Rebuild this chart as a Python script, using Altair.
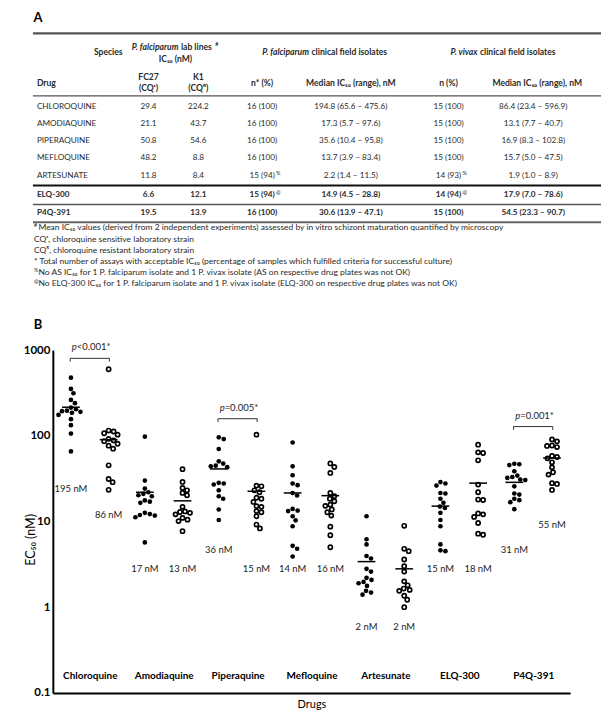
import altair as alt
import numpy as np
import pandas as pd

# ================= Panel A : table values =================
tbl_drugs = ["CHLOROQUINE", "AMODIAQUINE", "PIPERAQUINE", "MEFLOQUINE", "ARTESUNATE", "ELQ-300", "P4Q-391"]
tbl_fc27 = ["29.4", "21.1", "50.8", "48.2", "11.8", "6.6", "19.5"]
tbl_k1 = ["224.2", "43.7", "54.6", "8.8", "8.4", "12.1", "13.9"]
tbl_pf_n = ["16 (100)", "16 (100)", "16 (100)", "16 (100)", "15 (94)", "15 (94)", "16 (100)"]
tbl_pf_mark = ["", "", "", "", "%", "@", ""]
tbl_pf_med = ["194.8 (65.6 – 475.6)", "17.3 (5.7 – 97.6)", "35.6 (10.4 – 95.8)", "13.7 (3.9 – 83.4)",
              "2.2 (1.4 – 11.5)", "14.9 (4.5 – 28.8)", "30.6 (13.9 – 47.1)"]
tbl_pv_n = ["15 (100)", "15 (100)", "15 (100)", "15 (100)", "14 (93)", "14 (94)", "15 (100)"]
tbl_pv_mark = ["", "", "", "", "%", "@", ""]
tbl_pv_med = ["86.4 (23.4 – 596.9)", "13.1 (7.7 – 40.7)", "16.9 (8.3 – 102.8)", "15.7 (5.0 – 47.5)",
              "1.9 (1.0 – 8.9)", "17.9 (7.0 – 78.6)", "54.5 (23.3 – 90.7)"]
tbl_bold = [False, False, False, False, False, True, True]

footnote_marks = ["#", "", "", "", "%", "@"]
footnotes = [
    "Mean IC₅₀ values (derived from 2 independent experiments) assessed by in vitro schizont maturation quantified by microscopy",
    "CQˢ, chloroquine sensitive laboratory strain",
    "CQᴿ, chloroquine resistant laboratory strain",
    "* Total number of assays with acceptable IC₅₀ (percentage of samples which fulfilled criteria for successful culture)",
    "No AS IC₅₀ for 1 P. falciparum isolate and 1 P. vivax isolate (AS on respective drug plates was not OK)",
    "No ELQ-300 IC₅₀ for 1 P. falciparum isolate and 1 P. vivax isolate (ELQ-300 on respective drug plates was not OK)",
]

# ================= Panel B : dot plot values =================
drug_names = ["Chloroquine", "Amodiaquine", "Piperaquine", "Mefloquine", "Artesunate", "ELQ-300", "P4Q-391"]

pf_chloroquine = [475.6, 352, 313, 262, 240, 213, 204, 196, 193.6, 190, 185, 175, 156, 133, 106, 65.6]
pf_amodiaquine = [97.6, 30, 24.2, 21.9, 21, 20.2, 19.7, 17.6, 17, 16.5, 12.6, 12.2, 11.9, 11.7, 11.2, 5.7]
pf_piperaquine = [95.8, 91.5, 70, 50.3, 47.3, 44.8, 44, 43, 28.2, 27.7, 27, 23.1, 19.7, 18.4, 13.8, 10.4]
pf_mefloquine = [83.4, 44, 34.6, 27.7, 26.5, 21.5, 20.1, 14.0, 13.4, 13.2, 11.5, 10.3, 8.8, 5.2, 4.8, 3.9]
pf_artesunate = [11.5, 6.2, 5.4, 3.95, 3.7, 2.8, 2.6, 2.2, 2.08, 1.97, 1.9, 1.77, 1.55, 1.48, 1.4]
pf_elq300 = [28.8, 27.7, 26.2, 21.5, 21.2, 18.4, 16.5, 14.9, 14.4, 12.6, 10.4, 8.8, 5.4, 4.6, 4.5]
pf_p4q391 = [47.1, 46.5, 45.5, 38.5, 34.3, 33, 32.2, 30.8, 30.4, 25.7, 21.2, 20.6, 18.4, 17.7, 16.8, 13.9]

pv_chloroquine = [596.9, 115, 112, 107, 103, 92, 88.3, 86.4, 80.7, 76.5, 70.6, 45.2, 31.3, 28.7, 23.4]
pv_amodiaquine = [40.7, 28.9, 24.6, 23.1, 21.5, 20.2, 14.8, 13.1, 12.9, 12.6, 12.1, 11, 10.5, 10.1, 7.7]
pv_piperaquine = [102.8, 26.2, 25.7, 23.1, 21.9, 18.9, 18.4, 16.9, 15.1, 14.8, 13.2, 12.8, 11.5, 9.2, 8.3]
pv_mefloquine = [47.5, 43.2, 36.8, 21.5, 19.7, 18.4, 17.2, 15.7, 15.2, 13.8, 12.8, 11.7, 8.7, 6.9, 5.0]
pv_artesunate = [8.9, 4.8, 4.5, 3.6, 3.0, 2.6, 2.0, 1.8, 1.65, 1.59, 1.55, 1.36, 1.22, 1.0]
pv_elq300 = [78.6, 64, 62.9, 51.7, 26.9, 21.9, 18.0, 17.8, 12.4, 12.1, 11.3, 9.6, 7.2, 7.0]
pv_p4q391 = [90.7, 86, 77, 76, 73.8, 58, 56.5, 54.5, 49, 42.8, 37.5, 35.2, 28, 27.4, 23.3]

pf_sets = [pf_chloroquine, pf_amodiaquine, pf_piperaquine, pf_mefloquine, pf_artesunate, pf_elq300, pf_p4q391]
pv_sets = [pv_chloroquine, pv_amodiaquine, pv_piperaquine, pv_mefloquine, pv_artesunate, pv_elq300, pv_p4q391]

pf_line = [215, 21.9, 41, 21.5, 3.4, 15.1, 28.6]
pv_line = [90, 17.4, 22.5, 20, 2.8, 28, 55]

pf_label = ["195 nM", "17 nM", "36 nM", "14 nM", "2 nM", "15 nM", "31 nM"]
pv_label = ["86 nM", "13 nM", "15 nM", "16 nM", "2 nM", "18 nM", "55 nM"]
pf_label_at = [24, 2.77, 4.7, 2.77, 0.58, 2.77, 4.63]
pv_label_at = [12, 2.77, 2.77, 2.77, 0.58, 2.77, 9.0]

p_drug = [0, 2, 6]
p_text = ["<0.001*", "=0.005*", "=0.001*"]
p_bracket_at = [800, 158, 128]
p_text_at = [1075, 210, 171]

# ================= layout (not data) =================
FONT = "Lato"
TXT = "#2a2a2a"
COL_X = {"drug": 35, "fc27": 147, "k1": 197, "pf_n": 261, "pf_med": 350, "pv_n": 448, "pv_med": 533}
ROW_Y = [106, 123, 140, 157, 175, 194, 213]
FOOT_Y = [227, 238.5, 250, 261, 272, 283]
A_X0, A_W = 51, 553
A_Y0, A_H = 8, 324
B_W, B_H = 519, 344
SIDE = {"pf": -0.255, "pv": 0.255}
PX_UNIT = B_W / 7.0
PX_DEC = B_H / 4.0

# ---------------- Panel A chart ----------------
xa = alt.Scale(domain=[A_X0, A_X0 + A_W], nice=False, zero=False)
ya = alt.Scale(domain=[A_Y0, A_Y0 + A_H], nice=False, zero=False, reverse=True)


def tlayer(rows, **kw):
    df = pd.DataFrame(rows, columns=["px", "py", "t"])
    base = dict(font=FONT, color=TXT, baseline="middle")
    base.update(kw)
    return alt.Chart(df).mark_text(**base).encode(
        x=alt.X("px:Q", scale=xa, axis=None),
        y=alt.Y("py:Q", scale=ya, axis=None),
        text="t:N",
    )


cells_norm, cells_bold, drug_norm, drug_bold, sup_rows = [], [], [], [], []
for i, d in enumerate(tbl_drugs):
    y = ROW_Y[i]
    row = [(COL_X["fc27"], y, tbl_fc27[i]), (COL_X["k1"], y, tbl_k1[i]),
           (COL_X["pf_n"], y, tbl_pf_n[i]), (COL_X["pf_med"], y, tbl_pf_med[i]),
           (COL_X["pv_n"], y, tbl_pv_n[i]), (COL_X["pv_med"], y, tbl_pv_med[i])]
    if tbl_bold[i]:
        cells_bold += row
        drug_bold.append((COL_X["drug"], y, d))
    else:
        cells_norm += row
        drug_norm.append((COL_X["drug"], y, d))
    if tbl_pf_mark[i]:
        sup_rows.append((COL_X["pf_n"] + 14, y - 3, tbl_pf_mark[i]))
    if tbl_pv_mark[i]:
        sup_rows.append((COL_X["pv_n"] + 14, y - 3, tbl_pv_mark[i]))

rules_a = pd.DataFrame({
    "x1": [31, 31, 31, 31, 31],
    "x2": [601, 601, 601, 601, 601],
    "y": [32.3, 95, 185, 204, 221.7],
    "w": [2.2, 1.4, 2.0, 1.3, 2.0],
    "c": ["#555555", "#555555", "#111111", "#555555", "#666666"],
})
rule_layer = alt.Chart(rules_a).mark_rule().encode(
    x=alt.X("x1:Q", scale=xa, axis=None), x2="x2:Q",
    y=alt.Y("y:Q", scale=ya, axis=None),
    strokeWidth=alt.StrokeWidth("w:Q", scale=None),
    color=alt.Color("c:N", scale=None),
)

HS = 8.6  # header font size
layers_a = [
    rule_layer,
    tlayer([(36, 16.5, "A"), (36, 325, "B")], fontSize=13, fontWeight="bold", color="black", align="center"),
    # header row 1
    tlayer([(121, 51, "Species")], fontSize=HS, fontWeight="bold", align="right"),
    tlayer([(177, 46, "P. falciparum"), (308, 51, "P. falciparum"), (477, 51, "P. vivax")],
           fontSize=HS, fontWeight="bold", fontStyle="italic", align="right"),
    tlayer([(179.5, 46, "lab lines"), (310.5, 51, "clinical field isolates"), (479.5, 51, "clinical field isolates")],
           fontSize=HS, fontWeight="bold", align="left"),
    tlayer([(214, 43, "#")], fontSize=5.5, fontWeight="bold", align="left"),
    tlayer([(174, 57.5, "IC₅₀ (nM)")], fontSize=HS, fontWeight="bold", align="center"),
    # header row 2
    tlayer([(COL_X["drug"], 82, "Drug")], fontSize=HS, fontWeight="bold", align="left"),
    tlayer([(COL_X["fc27"], 76, "FC27"), (COL_X["fc27"], 87, "(CQˢ)"),
            (COL_X["k1"], 76, "K1"), (COL_X["k1"], 87, "(CQᴿ)"),
            (COL_X["pf_n"], 82, "n* (%)"), (COL_X["pf_med"], 82, "Median IC₅₀ (range), nM"),
            (COL_X["pv_n"], 82, "n (%)"), (COL_X["pv_med"] + 4, 82, "Median IC₅₀ (range), nM")],
           fontSize=HS, fontWeight="bold", align="center"),
    # body
    tlayer(drug_norm, fontSize=8.2, align="left"),
    tlayer(drug_bold, fontSize=8.2, fontWeight="bold", align="left"),
    tlayer(cells_norm, fontSize=8.2, align="center"),
    tlayer(cells_bold, fontSize=8.2, fontWeight="bold", align="center"),
    tlayer(sup_rows, fontSize=5.5, align="left"),
    # footnotes
    tlayer([(32, FOOT_Y[i] - 2.5, m) for i, m in enumerate(footnote_marks) if m], fontSize=5.5, align="left"),
    tlayer([(36.5 if footnote_marks[i] else 32, FOOT_Y[i], f) for i, f in enumerate(footnotes)],
           fontSize=8.5, align="left"),
]
chart_a = alt.layer(*layers_a).properties(width=A_W, height=A_H)


# ---------------- Panel B chart ----------------
def swarm(vals, d=5.0):
    ys_px = [PX_DEC * np.log10(v) for v in vals]
    placed, offs = [], [0.0] * len(vals)
    for i in np.argsort(ys_px)[::-1]:
        y = ys_px[i]
        found = None
        for k in range(0, 80):
            for s in ([0] if k == 0 else [1, -1]):
                x = s * k * 0.5
                if all((x - px) ** 2 + (y - py) ** 2 >= d * d for px, py in placed):
                    found = x
                    break
            if found is not None:
                break
        placed.append((found, y))
        offs[i] = found
    return offs


pts = []
for i in range(7):
    for sp, sets in (("pf", pf_sets), ("pv", pv_sets)):
        vals = sets[i]
        offs = swarm(vals)
        for v, o in zip(vals, offs):
            pts.append({"species": sp, "x": i + SIDE[sp] + o / PX_UNIT, "v": v})
pts = pd.DataFrame(pts)

med = pd.DataFrame(
    [{"x1": i + SIDE["pf"] - 0.12, "x2": i + SIDE["pf"] + 0.12, "v": pf_line[i]} for i in range(7)]
    + [{"x1": i + SIDE["pv"] - 0.12, "x2": i + SIDE["pv"] + 0.12, "v": pv_line[i]} for i in range(7)]
)
labels = pd.DataFrame(
    [{"x": i + SIDE["pf"], "v": pf_label_at[i], "t": pf_label[i]} for i in range(7)]
    + [{"x": i + SIDE["pv"], "v": pv_label_at[i], "t": pv_label[i]} for i in range(7)]
)
brk = pd.DataFrame({
    "x1": [d + SIDE["pf"] - 0.01 for d in p_drug],
    "x2": [d + SIDE["pv"] + 0.01 for d in p_drug],
    "v": p_bracket_at,
    "v2": [b * 10 ** (-3.3 / PX_DEC) for b in p_bracket_at],
    "xc": p_drug,
    "tv": p_text_at,
    "t": p_text,
})
brk_ticks = pd.concat([
    brk[["x1", "v", "v2"]].rename(columns={"x1": "x"}),
    brk[["x2", "v", "v2"]].rename(columns={"x2": "x"}),
])

xs = alt.Scale(domain=[-0.5, 6.5], nice=False, zero=False)
ys = alt.Scale(type="log", domain=[0.1, 1000], nice=False)
label_expr = "[" + ",".join("'%s'" % n for n in drug_names) + "][datum.value]"
xax = alt.Axis(values=list(range(7)), labelExpr=label_expr, title="Drugs", ticks=False, grid=False,
               domainColor="black", domainWidth=2, labelPadding=-17, labelBaseline="middle",
               labelFontWeight="bold", labelFontSize=10, labelColor="black", labelOverlap=False,
               labelFlush=False, titleFontSize=11, titleFontWeight="normal", titleColor="black",
               titlePadding=6, labelFont=FONT, titleFont=FONT)
yax = alt.Axis(values=[0.1, 1, 10, 100, 1000], format="~g", title="EC₅₀ (nM)", ticks=False, grid=False,
               domainColor="black", domainWidth=2, labelPadding=3, labelFontWeight="bold",
               labelFontSize=11.5, labelColor="black", labelOverlap=False, labelFlush=False,
               titleX=-22, titleY=190, titleBaseline="middle", titleFontSize=12.5,
               titleFontWeight="normal", titleColor="black", labelFont=FONT, titleFont=FONT)

X = lambda f: alt.X(f, scale=xs, axis=xax)
Y = lambda f: alt.Y(f, scale=ys, axis=yax)

filled = alt.Chart(pts).transform_filter("datum.species == 'pf'").mark_circle(
    size=22, color="black", opacity=1).encode(x=X("x:Q"), y=Y("v:Q"))
hollow = alt.Chart(pts).transform_filter("datum.species == 'pv'").mark_point(
    shape="circle", filled=False, size=17, strokeWidth=1.7, color="black", opacity=1).encode(x=X("x:Q"), y=Y("v:Q"))
med_layer = alt.Chart(med).mark_rule(color="black", strokeWidth=1.5).encode(x=X("x1:Q"), x2="x2:Q", y=Y("v:Q"))
lab_layer = alt.Chart(labels).mark_text(font=FONT, fontSize=9.5, color="#222222", baseline="middle").encode(
    x=X("x:Q"), y=Y("v:Q"), text="t:N")
brk_h = alt.Chart(brk).mark_rule(color="#333333", strokeWidth=1).encode(x=X("x1:Q"), x2="x2:Q", y=Y("v:Q"))
brk_v = alt.Chart(brk_ticks).mark_rule(color="#333333", strokeWidth=1).encode(x=X("x:Q"), y=Y("v:Q"), y2="v2:Q")
p_it = alt.Chart(brk).mark_text(font=FONT, fontSize=9.5, fontStyle="italic", align="right", dx=-13,
                                baseline="middle", color="#222222").encode(
    x=X("xc:Q"), y=Y("tv:Q"), text=alt.value("p"))
p_rest = alt.Chart(brk).mark_text(font=FONT, fontSize=9.5, align="left", dx=-13,
                                  baseline="middle", color="#222222").encode(
    x=X("xc:Q"), y=Y("tv:Q"), text="t:N")

chart_b = alt.layer(filled, hollow, med_layer, lab_layer, brk_h, brk_v, p_it, p_rest).properties(
    width=B_W, height=B_H)

chart = alt.vconcat(chart_a, chart_b, spacing=10).properties(
    padding={"left": 15, "top": 0, "right": 0, "bottom": 0}
).configure(font=FONT).configure_view(stroke=None)

chart.save("out.html", embed_options={"renderer": "svg", "actions": False})
